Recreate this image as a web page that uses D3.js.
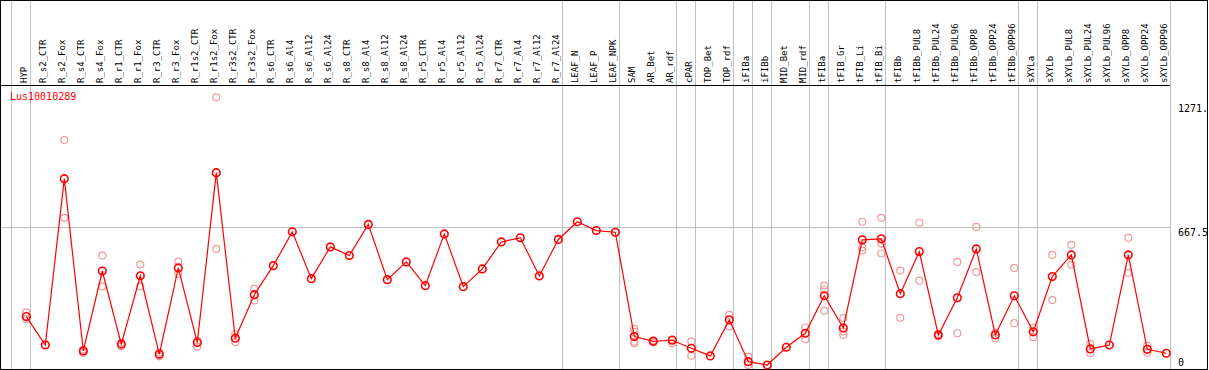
<!DOCTYPE html>
<html>
<head>
<meta charset="utf-8">
<script src="https://cdn.jsdelivr.net/npm/d3@7"></script>
<style>
  body { margin: 0; background: #fff; }
  svg { display: block; }
  text { font-family: "DejaVu Sans Mono", monospace; }
</style>
</head>
<body>
<div id="grafico"></div>
<script>
const geneName = "Lus10010289";

const labels = ["HYP", "R_s2_CTR", "R_s2_Fox", "R_s4_CTR", "R_s4_Fox", "R_r1_CTR", "R_r1_Fox",
  "R_r3_CTR", "R_r3_Fox", "R_r1s2_CTR", "R_r1s2_Fox", "R_r3s2_CTR", "R_r3s2_Fox",
  "R_s6_CTR", "R_s6_Al4", "R_s6_Al12", "R_s6_Al24", "R_s8_CTR", "R_s8_Al4", "R_s8_Al12", "R_s8_Al24",
  "R_r5_CTR", "R_r5_Al4", "R_r5_Al12", "R_r5_Al24", "R_r7_CTR", "R_r7_Al4", "R_r7_Al12", "R_r7_Al24",
  "LEAF_N", "LEAF_P", "LEAF_NPK", "SAM", "AR_Bet", "AR_rdf", "cPAR", "TOP_Bet", "TOP_rdf",
  "iFIBa", "iFIBb", "MID_Bet", "MID_rdf", "tFIBa", "tFIB_Gr", "tFIB_Li", "tFIB_Bi", "tFIBb",
  "tFIBb_PUL8", "tFIBb_PUL24", "tFIBb_PUL96", "tFIBb_OPP8", "tFIBb_OPP24", "tFIBb_OPP96",
  "sXYLa", "sXYLb", "sXYLb_PUL8", "sXYLb_PUL24", "sXYLb_PUL96", "sXYLb_OPP8", "sXYLb_OPP24", "sXYLb_OPP96"];

const means = [235, 97, 904, 68, 456, 101, 433, 52, 471, 109, 933, 130, 341,
  482, 646, 419, 573, 531, 682, 414, 500,
  385, 636, 380, 466, 597, 617, 432, 609,
  695, 652, 644, 138, 115, 120, 81, 44, 219,
  16, 0, 86, 154, 336, 180, 607, 612, 346,
  550, 146, 326, 563, 146, 336,
  161, 429, 534, 78, 97, 534, 76, 57];

const replicates = [[255, 222], [], [1091, 714], [75, 60], [531, 381], [108, 92], [487, 381],
  [60, 42], [502, 442], [118, 89], [1299, 563], [151, 111], [369, 313],
  [], [], [], [], [], [], [], [],
  [], [], [], [], [], [], [], [],
  [], [], [], [175, 160, 113, 106], [120, 110], [125, 106], [115, 45], [], [243, 187],
  [41, 0], [], [], [182, 125], [385, 365, 263], [229, 162, 146], [695, 571, 555], [714, 589, 541], [458, 229],
  [690, 409], [150, 140], [500, 154], [670, 451], [157, 130], [471, 203],
  [182, 135], [534, 315], [583, 486], [102, 57], [], [617, 447], [94, 60], []];

// separadores verticais: depois destes indices
const groupEnds = [-1, 0, 28, 31, 34, 35, 37, 38, 39, 41, 42, 45, 52, 53, 60];

const yTicks = [1271, 667.5, 0];
const yTickLabels = ["1271.", "667.5", "0"];

const W = 1209, H = 370;
const headerY = 85, plotRight = 1170, bottom = 368.5;

const x = d3.scaleLinear().domain([0, labels.length - 1]).range([26.3, 1166.3]);
const y = d3.scaleLinear().domain([0, 1271]).range([365, 103]);

const svg = d3.select("#grafico").append("svg").attr("width", W).attr("height", H);

/* GRADE */
svg.selectAll("line.vgrid").data(groupEnds).enter().append("line")
  .attr("class", "vgrid")
  .attr("x1", d => Math.round(x(d) + 4) + 0.5).attr("x2", d => Math.round(x(d) + 4) + 0.5)
  .attr("y1", 0).attr("y2", bottom)
  .attr("stroke", "#c0c0c0").attr("stroke-width", 1).attr("shape-rendering", "crispEdges");

svg.append("line")
  .attr("x1", 0).attr("x2", plotRight)
  .attr("y1", Math.round(y(667.5)) + 0.5).attr("y2", Math.round(y(667.5)) + 0.5)
  .attr("stroke", "#c0c0c0").attr("stroke-width", 1).attr("shape-rendering", "crispEdges");

/* MOLDURA */
svg.append("rect").attr("x", 0.5).attr("y", 0.5).attr("width", W - 2.5).attr("height", bottom)
  .attr("fill", "none").attr("stroke", "#000").attr("stroke-width", 1).attr("shape-rendering", "crispEdges");
svg.append("line").attr("x1", 0).attr("x2", plotRight).attr("y1", headerY + 0.5).attr("y2", headerY + 0.5)
  .attr("stroke", "#000").attr("stroke-width", 1).attr("shape-rendering", "crispEdges");

/* ROTULOS */
svg.selectAll("text.lbl").data(labels).enter().append("text")
  .attr("class", "lbl")
  .attr("transform", (d, i) => "translate(" + (x(i) + 0.5) + "," + 83 + ") rotate(-90)")
  .attr("font-size", 9).attr("fill", "#000")
  .text(d => d);

svg.selectAll("text.ytick").data(yTicks).enter().append("text")
  .attr("class", "ytick")
  .attr("x", 1178)
  .attr("y", d => Math.min(y(d) + 9, 366))
  .attr("font-size", 10).attr("fill", "#000")
  .text((d, i) => yTickLabels[i]);

svg.append("text").attr("x", 10).attr("y", 100).attr("font-size", 10).attr("fill", "red").text(geneName);

/* REPLICATAS */
let repPoints = [];
replicates.forEach((r, i) => r.forEach(v => repPoints.push({ i: i, v: v })));
svg.selectAll("circle.rep").data(repPoints).enter().append("circle")
  .attr("class", "rep")
  .attr("cx", d => x(d.i)).attr("cy", d => y(d.v)).attr("r", 3.5)
  .attr("fill", "none").attr("stroke", "#f09a9a").attr("stroke-width", 1.2);

/* LINHA DA MEDIA */
const line = d3.line().x((d, i) => x(i)).y(d => y(d));
svg.append("path").datum(means).attr("d", line)
  .attr("fill", "none").attr("stroke", "red").attr("stroke-width", 1.2);

svg.selectAll("circle.mean").data(means).enter().append("circle")
  .attr("class", "mean")
  .attr("cx", (d, i) => x(i)).attr("cy", d => y(d)).attr("r", 3.8)
  .attr("fill", "none").attr("stroke", "red").attr("stroke-width", 1.6);
</script>
</body>
</html>
